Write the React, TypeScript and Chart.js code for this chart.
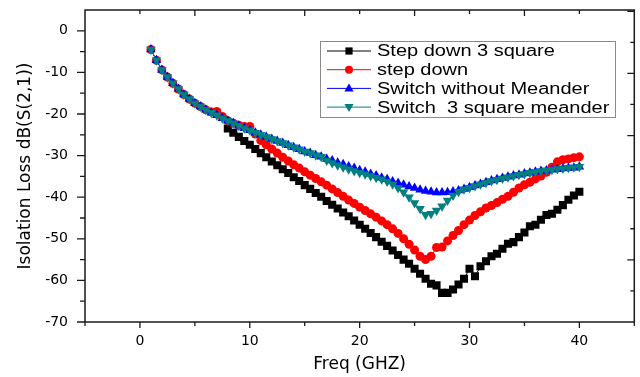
import { useEffect, useRef } from "react";
import { Chart, registerables } from "chart.js";

Chart.register(...registerables);

// ---------- data ----------
const freqAll = [
  1, 1.5, 2, 2.5, 3, 3.5, 4, 4.5, 5, 5.5,
  6, 6.5, 7, 7.5, 8, 8.5, 9, 9.5, 10, 10.5,
  11, 11.5, 12, 12.5, 13, 13.5, 14, 14.5, 15, 15.5,
  16, 16.5, 17, 17.5, 18, 18.5, 19, 19.5, 20, 20.5,
  21, 21.5, 22, 22.5, 23, 23.5, 24, 24.5, 25, 25.5,
  26, 26.5, 27, 27.5, 28, 28.5, 29, 29.5, 30, 30.5,
  31, 31.5, 32, 32.5, 33, 33.5, 34, 34.5, 35, 35.5,
  36, 36.5, 37, 37.5, 38, 38.5, 39, 39.5, 40,
];

const freqStepDown3 = [
  8, 8.5, 9, 9.5, 10, 10.5, 11, 11.5, 12, 12.5,
  13, 13.5, 14, 14.5, 15, 15.5, 16, 16.5, 17, 17.5,
  18, 18.5, 19, 19.5, 20, 20.5, 21, 21.5, 22, 22.5,
  23, 23.5, 24, 24.5, 25, 25.5, 26, 26.5, 27, 27.5,
  28, 28.5, 29, 29.5, 30, 30.5, 31, 31.5, 32, 32.5,
  33, 33.5, 34, 34.5, 35, 35.5, 36, 36.5, 37, 37.5,
  38, 38.5, 39, 39.5, 40,
];

const stepDown3Square = [
  -23.5, -24.5, -25.5, -26.5, -27.4, -28.4, -29.4, -30.4, -31.4, -32.3,
  -33.3, -34.2, -35.2, -36.1, -37.1, -38.0, -39.0, -39.9, -40.9, -41.8,
  -42.7, -43.7, -44.6, -45.6, -46.6, -47.6, -48.6, -49.6, -50.7, -51.7,
  -52.8, -53.9, -55.0, -56.0, -57.2, -58.4, -59.6, -60.8, -61.2, -63.0,
  -63.0, -62.2, -61.0, -59.6, -57.2, -59.0, -56.6, -55.4, -54.2, -53.6,
  -52.4, -51.2, -50.8, -49.6, -48.5, -47.0, -46.6, -45.4, -44.3, -44.0,
  -43.0, -41.9, -40.6, -39.6, -38.7,
];

const stepDown = [
  -4.5, -7.1, -9.4, -11.1, -12.6, -14.0, -15.3, -16.4, -17.4, -18.2,
  -19.0, -19.5, -19.4, -20.6, -21.6, -22.2, -22.7, -23.0, -23.0, -24.8,
  -26.4, -27.4, -28.4, -29.4, -30.4, -31.3, -32.2, -33.0, -33.9, -34.7,
  -35.5, -36.3, -37.1, -38.0, -38.9, -39.8, -40.7, -41.5, -42.4, -43.2,
  -44.0, -44.8, -45.7, -46.6, -47.6, -48.7, -50.0, -51.3, -52.7, -54.2,
  -55.0, -54.2, -52.1, -52.0, -50.5, -49.2, -48.0, -46.6, -45.5, -44.4,
  -43.5, -42.6, -42.0, -41.3, -40.5, -39.8, -38.8, -37.8, -37.0, -36.4,
  -35.6, -34.9, -34.0, -32.8, -31.5, -31.0, -30.8, -30.5, -30.3,
];

const switchNoMeander = [
  -4.5, -7.1, -9.4, -11.1, -12.6, -14.0, -15.3, -16.4, -17.4, -18.2,
  -19.0, -19.7, -20.3, -21.0, -21.6, -22.2, -22.8, -23.4, -23.9, -24.5,
  -25.0, -25.5, -26.0, -26.5, -27.0, -27.5, -28.0, -28.5, -29.0, -29.4,
  -29.9, -30.3, -30.8, -31.2, -31.7, -32.1, -32.6, -33.0, -33.5, -33.9,
  -34.4, -34.8, -35.3, -35.7, -36.2, -36.6, -37.0, -37.4, -37.8, -38.2,
  -38.5, -38.7, -38.9, -38.9, -38.8, -38.6, -38.4, -38.0, -37.6, -37.2,
  -36.8, -36.4, -36.0, -35.7, -35.4, -35.1, -34.8, -34.6, -34.3, -34.1,
  -33.9, -33.7, -33.6, -33.4, -33.3, -33.1, -33.0, -32.9, -32.7,
];

const switch3SquareMeander = [
  -4.5, -7.1, -9.4, -11.1, -12.6, -14.0, -15.3, -16.4, -17.4, -18.2,
  -19.0, -19.7, -20.3, -21.0, -21.6, -22.2, -22.8, -23.4, -23.9, -24.5,
  -25.0, -25.5, -26.0, -26.5, -27.0, -27.5, -28.0, -28.5, -29.0, -29.4,
  -29.9, -30.3, -31.2, -31.8, -32.3, -32.8, -33.3, -33.7, -34.1, -34.5,
  -34.9, -35.3, -35.7, -36.2, -36.9, -37.8, -38.8, -40.0, -41.4, -42.8,
  -44.2, -44.0, -43.2, -42.2, -40.8, -39.6, -38.7, -38.1, -37.7, -37.3,
  -36.9, -36.5, -36.1, -35.8, -35.5, -35.2, -34.9, -34.6, -34.4, -34.1,
  -33.9, -33.7, -33.5, -33.4, -33.2, -33.1, -32.9, -32.8, -32.7,
];

const xTickValues = [0, 10, 20, 30, 40];
const yTickValues = [-70, -60, -50, -40, -30, -20, -10, 0];

const seriesLabels = [
  "Step down 3 square",
  "step down",
  "Switch without Meander",
  "Switch  3 square meander",
];
const seriesColors = ["#000000", "#ff0000", "#0000ff", "#008080"];
const seriesMarkers = ["rect", "circle", "triangleUp", "triangleDown"];

const xTitle = "Freq (GHZ)";
const yTitle = "Isolation Loss dB(S(2,1))";

// ---------- helpers ----------
function pts(xs: number[], ys: number[]) {
  return ys.map((y, i) => ({ x: xs[i], y }));
}

function drawMarker(ctx: CanvasRenderingContext2D, kind: string, x: number, y: number, color: string) {
  ctx.save();
  ctx.fillStyle = color;
  ctx.beginPath();
  if (kind === "rect") {
    ctx.rect(x - 3.6, y - 3.6, 7.2, 7.2);
  } else if (kind === "circle") {
    ctx.arc(x, y, 4, 0, Math.PI * 2);
  } else if (kind === "triangleUp") {
    ctx.moveTo(x, y - 5);
    ctx.lineTo(x + 4.6, y + 3);
    ctx.lineTo(x - 4.6, y + 3);
    ctx.closePath();
  } else {
    ctx.moveTo(x, y + 5);
    ctx.lineTo(x + 4.6, y - 3);
    ctx.lineTo(x - 4.6, y - 3);
    ctx.closePath();
  }
  ctx.fill();
  ctx.restore();
}

const framePlugin = {
  id: "originFrame",
  afterDatasetsDraw(chart: any) {
    const { ctx, chartArea: a, scales } = chart;
    const xs = scales.x;
    const ys = scales.y;
    ctx.save();
    ctx.strokeStyle = "#1a1a1a";
    ctx.lineWidth = 1.5;
    ctx.strokeRect(a.left, a.top, a.right - a.left, a.bottom - a.top);
    ctx.lineWidth = 1.3;
    ctx.beginPath();
    // left ticks (outward)
    for (let v = ys.min; v < ys.max; v += 5) {
      const y = ys.getPixelForValue(v);
      const len = v % 10 === 0 ? 8 : 5;
      ctx.moveTo(a.left - len, y);
      ctx.lineTo(a.left, y);
    }
    // bottom ticks (outward)
    for (let v = xs.min; v <= xs.max; v += 5) {
      const x = xs.getPixelForValue(v);
      const len = v % 10 === 0 ? 6 : 4;
      ctx.moveTo(x, a.bottom);
      ctx.lineTo(x, a.bottom + len);
    }
    // top ticks (inward)
    for (let v = xs.min + 5; v < xs.max; v += 5) {
      const x = xs.getPixelForValue(v);
      const len = v % 10 === 0 ? 4 : 6;
      ctx.moveTo(x, a.top);
      ctx.lineTo(x, a.top + len);
    }
    // right ticks (inward), independent mirrored scale
    const span = 5.02;
    for (let k = 1; k <= 10; k++) {
      const y = a.bottom - ((k * 0.5) / span) * (a.bottom - a.top);
      const len = k % 2 === 0 ? 7 : 4;
      ctx.moveTo(a.right - len, y);
      ctx.lineTo(a.right, y);
    }
    ctx.stroke();
    ctx.restore();
  },
  afterDraw(chart: any) {
    const { ctx, chartArea: a } = chart;
    const box = { left: a.left + 235, top: a.top + 31, w: 295, h: 76 };
    ctx.save();
    ctx.fillStyle = "#ffffff";
    ctx.fillRect(box.left, box.top, box.w, box.h);
    ctx.strokeStyle = "#8a8a8a";
    ctx.lineWidth = 1;
    ctx.strokeRect(box.left + 0.5, box.top + 0.5, box.w, box.h);
    const rowH = 18.7;
    for (let i = 0; i < seriesLabels.length; i++) {
      const cy = box.top + 10 + i * rowH;
      ctx.strokeStyle = seriesColors[i];
      ctx.lineWidth = 1;
      ctx.beginPath();
      ctx.moveTo(box.left + 7, cy);
      ctx.lineTo(box.left + 51, cy);
      ctx.stroke();
      drawMarker(ctx, seriesMarkers[i], box.left + 29, cy, seriesColors[i]);
      ctx.save();
      ctx.translate(box.left + 57, cy);
      ctx.scale(1.25, 1);
      ctx.fillStyle = "#000000";
      ctx.font = "16px 'Liberation Sans', Arial, sans-serif";
      ctx.textBaseline = "middle";
      ctx.textAlign = "left";
      ctx.fillText(seriesLabels[i], 0, 1);
      ctx.restore();
    }
    ctx.restore();
  },
};

export default function App() {
  const ref = useRef<HTMLCanvasElement | null>(null);

  useEffect(() => {
    document.body.style.margin = "0";
    const canvas = ref.current;
    if (!canvas) return;

    const common = {
      showLine: true,
      borderWidth: 1,
      pointBorderWidth: 0,
      fill: false,
      tension: 0,
    };

    const chart = new Chart(canvas, {
      type: "scatter",
      data: {
        datasets: [
          {
            ...common,
            label: seriesLabels[0],
            data: pts(freqStepDown3, stepDown3Square),
            borderColor: seriesColors[0],
            backgroundColor: seriesColors[0],
            pointStyle: "rect",
            pointRadius: 5.7,
            order: 4,
          },
          {
            ...common,
            label: seriesLabels[1],
            data: pts(freqAll, stepDown),
            borderColor: seriesColors[1],
            backgroundColor: seriesColors[1],
            pointStyle: "circle",
            pointRadius: 4.5,
            order: 3,
          },
          {
            ...common,
            label: seriesLabels[2],
            data: pts(freqAll, switchNoMeander),
            borderColor: seriesColors[2],
            backgroundColor: seriesColors[2],
            pointStyle: "triangle",
            pointRadius: 5.5,
            order: 2,
          },
          {
            ...common,
            label: seriesLabels[3],
            data: pts(freqAll, switch3SquareMeander),
            borderColor: seriesColors[3],
            backgroundColor: seriesColors[3],
            pointStyle: "triangle",
            pointRotation: 180,
            pointRadius: 5.5,
            order: 1,
          },
        ],
      },
      options: {
        responsive: false,
        animation: false,
        devicePixelRatio: 1,
        layout: { padding: { top: 10, right: 2, left: 0, bottom: 0 } },
        plugins: {
          legend: { display: false },
          tooltip: { enabled: false },
        },
        scales: {
          x: {
            type: "linear",
            min: -5,
            max: 45,
            afterBuildTicks: (s: any) => {
              s.ticks = xTickValues.map((v) => ({ value: v }));
            },
            afterFit: (s: any) => {
              s.height = 55;
              s.paddingLeft = 0;
              s.paddingRight = 0;
              s.paddingTop = 0;
              s.paddingBottom = 0;
            },
            grid: { display: false, drawTicks: false },
            border: { display: false },
            ticks: {
              padding: 11,
              color: "#000000",
              font: { family: "'DejaVu Sans', sans-serif", size: 14 },
            },
            title: {
              display: true,
              text: xTitle,
              color: "#000000",
              font: { family: "'DejaVu Sans', sans-serif", size: 17 },
              padding: { top: 0, bottom: 2 },
            },
          },
          y: {
            type: "linear",
            min: -70,
            max: 5,
            afterBuildTicks: (s: any) => {
              s.ticks = yTickValues.map((v) => ({ value: v }));
            },
            afterFit: (s: any) => {
              s.width = 85;
              s.paddingLeft = 0;
              s.paddingRight = 0;
              s.paddingTop = 0;
              s.paddingBottom = 0;
            },
            grid: { display: false, drawTicks: false },
            border: { display: false },
            ticks: {
              padding: 17,
              color: "#000000",
              font: { family: "'DejaVu Sans', sans-serif", size: 14 },
            },
            title: {
              display: true,
              text: yTitle,
              color: "#000000",
              font: { family: "'DejaVu Sans', sans-serif", size: 17 },
              padding: { top: 15, bottom: 0 },
            },
          },
        },
      },
      plugins: [framePlugin],
    } as any);

    return () => chart.destroy();
  }, []);

  return (
    <canvas
      ref={ref}
      width={640}
      height={377}
      style={{ display: "block", width: "640px", height: "377px" }}
    />
  );
}
